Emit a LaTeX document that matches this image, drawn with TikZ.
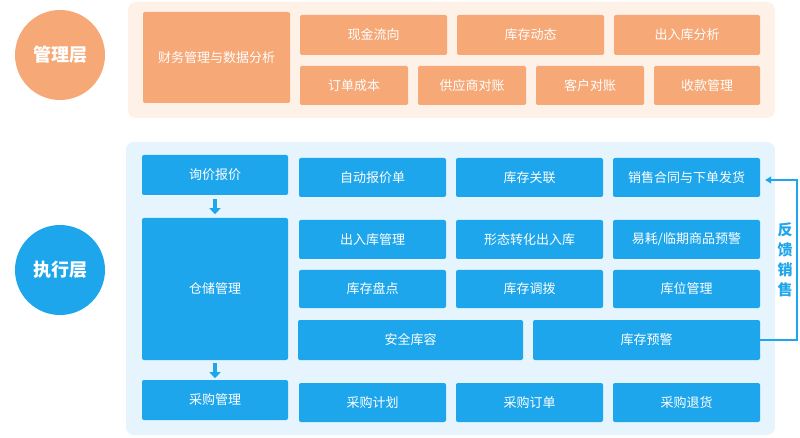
\documentclass[tikz,border=0pt]{standalone}
\usepackage{fontspec}
\setmainfont{Noto Sans CJK SC}
\usetikzlibrary{arrows.meta,positioning,calc}
\definecolor{orgbox}{HTML}{F6A877}
\definecolor{orgbg}{HTML}{FDF1E8}
\definecolor{blubox}{HTML}{1EA6EC}
\definecolor{blubg}{HTML}{E6F4FD}
\begin{document}
\begin{tikzpicture}[x=1pt, y=-1pt,
    obox/.style={rectangle, fill=orgbox, text=white, rounded corners=2pt, font=\fontsize{13}{15}\selectfont, inner sep=0pt},
    bbox/.style={rectangle, fill=blubox, text=white, rounded corners=2pt, font=\fontsize{13}{15}\selectfont, inner sep=0pt},
    layer/.style={circle, minimum size=90pt, text=white, font=\fontsize{18}{20}\selectfont\bfseries, inner sep=0pt}]
  \useasboundingbox (0,0) rectangle (800,438);
  % panels
  \fill[orgbg, rounded corners=8pt] (128,2) rectangle (775,118);
  \fill[blubg, rounded corners=8pt] (126,142) rectangle (775,435);
  \node (mgr) at (60,55) [layer, fill=orgbox] {管理层};
  \node (exe) at (60,270) [layer, fill=blubox] {执行层};
  % management layer
  \node (fin) at (216.5,57.5) [obox, minimum width=147pt, minimum height=91pt] {财务管理与数据分析};
  \node (cash) at (373.5,35) [obox, minimum width=147pt, minimum height=40pt] {现金流向};
  \node (stk) at (530.5,35) [obox, minimum width=147pt, minimum height=40pt] {库存动态};
  \node (ioa) at (687,35) [obox, minimum width=146pt, minimum height=40pt] {出入库分析};
  \node (ord) at (354,85.5) [obox, minimum width=108pt, minimum height=39pt] {订单成本};
  \node (sup) at (472,85.5) [obox, minimum width=108pt, minimum height=39pt] {供应商对账};
  \node (cus) at (590,85.5) [obox, minimum width=108pt, minimum height=39pt] {客户对账};
  \node (pay) at (707,85.5) [obox, minimum width=106pt, minimum height=39pt] {收款管理};
  % execution layer
  \node (inq) at (215,175) [bbox, minimum width=146pt, minimum height=40pt] {询价报价};
  \node (auto) at (372.5,177.5) [bbox, minimum width=147pt, minimum height=39pt] {自动报价单};
  \node (rel) at (529.5,177.5) [bbox, minimum width=147pt, minimum height=39pt] {库存关联};
  \node (sale) at (686.5,177.5) [bbox, minimum width=147pt, minimum height=39pt] {销售合同与下单发货};
  \node (wh) at (215,289) [bbox, minimum width=146pt, minimum height=142pt] {仓储管理};
  \node (io) at (372.5,239.5) [bbox, minimum width=147pt, minimum height=39pt] {出入库管理};
  \node (form) at (529.5,239.5) [bbox, minimum width=147pt, minimum height=39pt] {形态转化出入库};
  \node (warn) at (686.5,239.5) [bbox, minimum width=147pt, minimum height=39pt] {易耗/临期商品预警};
  \node (cnt) at (372.5,289) [bbox, minimum width=147pt, minimum height=38pt] {库存盘点};
  \node (trf) at (529.5,289) [bbox, minimum width=147pt, minimum height=38pt] {库存调拨};
  \node (loc) at (686.5,289) [bbox, minimum width=147pt, minimum height=38pt] {库位管理};
  \node (safe) at (410.5,340) [bbox, minimum width=225pt, minimum height=40pt] {安全库容};
  \node (alrt) at (646.5,340) [bbox, minimum width=227pt, minimum height=40pt] {库存预警};
  \node (pur) at (215,400) [bbox, minimum width=146pt, minimum height=40pt] {采购管理};
  \node (plan) at (372.5,402.5) [bbox, minimum width=147pt, minimum height=39pt] {采购计划};
  \node (po) at (529.5,402.5) [bbox, minimum width=147pt, minimum height=39pt] {采购订单};
  \node (ret) at (686.5,402.5) [bbox, minimum width=147pt, minimum height=39pt] {采购退货};
  % flow arrows
  \draw[blubox, line width=4pt, -{Triangle[length=6pt, width=11pt]}] (inq.south) ++(0,4) -- ++(0,15);
  \draw[blubox, line width=4pt, -{Triangle[length=6pt, width=11pt]}] (wh.south) ++(0,3) -- ++(0,15);
  % feedback
  \coordinate (fb1) at (797,340);
  \coordinate (fb2) at (797,180);
  \draw[blubox, line width=1.2pt, -{Triangle[length=6pt, width=7pt]}] (alrt.east) -- (fb1) -- (fb2) -- ($(sale.east)+(5,2.5)$);
  \node (fbtxt) at (785,260) [fill=white, text=blubox, font=\fontsize{15}{20}\selectfont\bfseries, align=center, inner sep=2pt] {反\\馈\\销\\售};
\end{tikzpicture}
\end{document}
